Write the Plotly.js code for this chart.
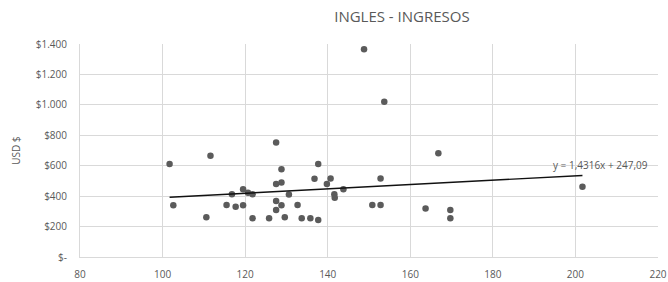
<!DOCTYPE html>
<html>
<head>
<meta charset="utf-8">
<script src="https://cdn.plot.ly/plotly-3.0.1.min.js"></script>
<style>html,body{margin:0;padding:0;background:#fff;}#chart{width:668px;height:282px;}</style>
</head>
<body>
<div id="chart"></div>
<script>
// Data
const ingles = [101.7,102.6,111.6,110.6,115.5,116.8,117.7,119.5,119.5,120.7,121.8,121.8,125.8,127.5,127.5,128.8,128.8,127.5,127.5,128.8,129.6,130.6,132.7,133.7,135.8,137.7,137.7,136.8,139.8,140.7,141.6,141.7,143.8,148.8,153.7,150.8,152.8,152.8,163.7,166.8,169.7,169.7,201.7];
const ingresos = [612,340,666,262,341,412,331,446,340,423,412,254,255,752,480,489,577,368,309,340,261,411,341,255,255,243,612,515,480,516,412,390,445,1366,1020,342,342,516,318,682,309,255,462];
const trendSlope = 1.4316;
const trendIntercept = 247.09;
const xTicks = [80,100,120,140,160,180,200,220];
const yTicks = [0,200,400,600,800,1000,1200,1400];
const yTickText = ['$-','$200','$400','$600','$800','$1.000','$1.200','$1.400'];
const titleText = 'INGLES - INGRESOS';
const yTitle = 'USD $';

const xMin = Math.min(...ingles), xMax = Math.max(...ingles);
const trendX = [xMin, xMax];
const trendY = trendX.map(x => trendSlope * x + trendIntercept);
const fmt = (v, d) => v.toFixed(d).replace('.', ',');
const eqText = 'y = ' + fmt(trendSlope, 4) + 'x + ' + fmt(trendIntercept, 2);

const font = "'Open Sans', 'Liberation Sans', sans-serif";
const grey = '#595959';

const data = [
  {x: ingles, y: ingresos, type: 'scatter', mode: 'markers',
   marker: {color: '#5b5b5b', size: 6.5}, hoverinfo: 'skip'},
  {x: trendX, y: trendY, type: 'scatter', mode: 'lines',
   line: {color: '#111111', width: 1.4}, hoverinfo: 'skip'}
];

const layout = {
  width: 668, height: 282,
  margin: {l: 80, r: 10, t: 44, b: 25},
  paper_bgcolor: '#ffffff', plot_bgcolor: '#ffffff',
  showlegend: false,
  font: {family: font, color: grey, size: 10},
  title: {text: titleText, font: {family: font, size: 15, color: grey},
          x: 0.557, xref: 'paper', xanchor: 'center', y: 0.94, yref: 'container', yanchor: 'middle'},
  xaxis: {range: [80, 220], tickvals: xTicks, ticktext: xTicks.map(String),
          showgrid: true, gridcolor: '#d9d9d9', gridwidth: 1,
          zeroline: false, showline: true, linecolor: '#d9d9d9', linewidth: 1,
          ticks: '', ticklabelstandoff: 8, tickfont: {size: 10, color: grey}, fixedrange: true},
  yaxis: {range: [0, 1400], tickvals: yTicks, ticktext: yTickText,
          showgrid: true, gridcolor: '#d9d9d9', gridwidth: 1,
          zeroline: false, showline: true, linecolor: '#d9d9d9', linewidth: 1,
          ticks: '', ticklabelstandoff: 10, tickfont: {size: 10, color: grey},
          title: {text: yTitle, font: {size: 10, color: grey}, standoff: 13},
          fixedrange: true},
  annotations: [{
    x: (600 - 80) / 578, y: (257 - 165) / 213, xref: 'paper', yref: 'paper',
    text: eqText, showarrow: false, font: {size: 10, color: grey},
    xanchor: 'center', yanchor: 'middle'
  }]
};

Plotly.newPlot('chart', data, layout, {displayModeBar: false, staticPlot: true});
</script>
</body>
</html>
